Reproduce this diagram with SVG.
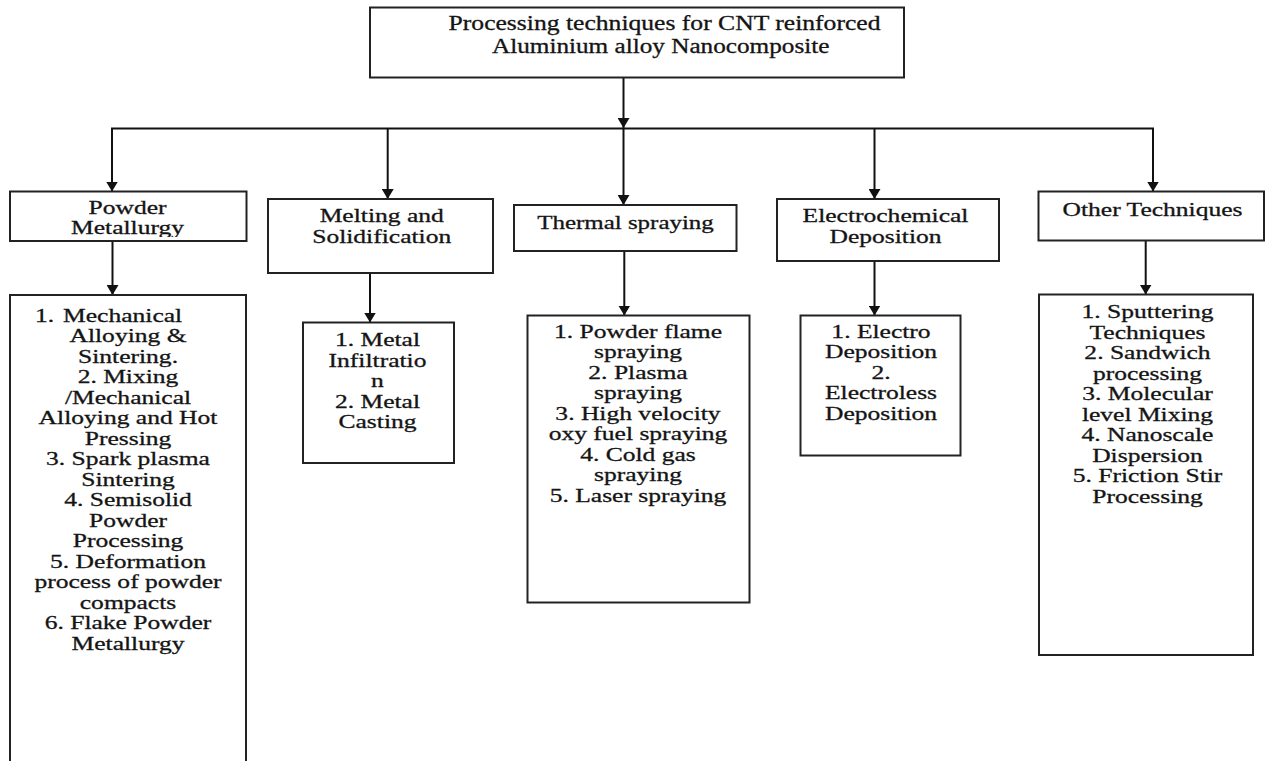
<svg xmlns="http://www.w3.org/2000/svg" width="1265" height="761" viewBox="0 0 1265 761">
<style>
.box{fill:#fff;stroke:#222;stroke-width:2}
.t{font-family:"Liberation Serif","Times New Roman",serif;font-size:19.5px;fill:#141414;stroke:#141414;stroke-width:0.3;text-anchor:middle}
.tt{font-size:20.5px}
.c{fill:none;stroke:#111;stroke-width:2}
</style>
<defs>
<marker id="ah" viewBox="0 0 10 12" refX="10" refY="6" markerWidth="10" markerHeight="12" markerUnits="userSpaceOnUse" orient="auto">
<path d="M0,0 L10,6 L0,12 z" fill="#111"/>
</marker>
<clipPath id="clipPM"><rect x="11" y="192" width="234" height="45"/></clipPath>
</defs>
<rect width="1265" height="761" fill="#fff"/>

<g id="connectors">
<path class="c" d="M623.5,77.5 V128" marker-end="url(#ah)"/>
<path class="c" d="M112,128.5 H1153" stroke-linecap="square"/>
<path class="c" d="M112,128.5 V191.5" marker-end="url(#ah)"/>
<path class="c" d="M387.7,128.5 V199" marker-end="url(#ah)"/>
<path class="c" d="M623.5,128.5 V205" marker-end="url(#ah)"/>
<path class="c" d="M874.5,128.5 V199" marker-end="url(#ah)"/>
<path class="c" d="M1153,128.5 V191.5" marker-end="url(#ah)"/>
<path class="c" d="M112.5,241 V295" marker-end="url(#ah)"/>
<path class="c" d="M370,273 V322.5" marker-end="url(#ah)"/>
<path class="c" d="M624.3,251 V315.5" marker-end="url(#ah)"/>
<path class="c" d="M874.5,261 V315.5" marker-end="url(#ah)"/>
<path class="c" d="M1145.7,240.5 V294.5" marker-end="url(#ah)"/>
</g>

<g id="root">
<rect class="box" x="370" y="7.5" width="534" height="70"/>
<g transform="translate(664.5 0) scale(1.25 1)"><text class="t tt" y="30">Processing techniques for CNT reinforced</text></g>
<g transform="translate(660.7 0) scale(1.23 1)"><text class="t tt" y="52.7">Aluminium alloy Nanocomposite</text></g>
</g>

<g id="powder">
<rect class="box" x="10" y="191.5" width="236.5" height="49.5"/>
<g clip-path="url(#clipPM)"><g transform="translate(127.5 0) scale(1.31 1)"><text class="t" y="214"><tspan x="0">Powder</tspan><tspan x="0" y="234.5">Metallurgy</tspan></text></g></g>
</g>

<g id="powder-list">
<rect class="box" x="10" y="295" width="236" height="490"/>
<g transform="translate(128 0) scale(1.31 1)">
<text class="t" y="322" style="text-anchor:start"><tspan x="-71">1.</tspan><tspan x="-49.6">Mechanical</tspan></text>
<text class="t" y="342.5"><tspan x="0">Alloying &amp;</tspan><tspan x="0" dy="20.5">Sintering.</tspan><tspan x="0" dy="20.5">2. Mixing</tspan><tspan x="0" dy="20.5">/Mechanical</tspan><tspan x="0" dy="20.5">Alloying and Hot</tspan><tspan x="0" dy="20.5">Pressing</tspan><tspan x="0" dy="20.5">3. Spark plasma</tspan><tspan x="0" dy="20.5">Sintering</tspan><tspan x="0" dy="20.5">4. Semisolid</tspan><tspan x="0" dy="20.5">Powder</tspan><tspan x="0" dy="20.5">Processing</tspan><tspan x="0" dy="20.5">5. Deformation</tspan><tspan x="0" dy="20.5">process of powder</tspan><tspan x="0" dy="20.5">compacts</tspan><tspan x="0" dy="20.5">6. Flake Powder</tspan><tspan x="0" dy="20.5">Metallurgy</tspan></text>
</g>
</g>

<g id="melting">
<rect class="box" x="268" y="199" width="225" height="74"/>
<g transform="translate(381.7 0) scale(1.31 1)"><text class="t" y="222"><tspan x="0">Melting and</tspan><tspan x="0" y="243.5">Solidification</tspan></text></g>
</g>

<g id="melting-list">
<rect class="box" x="303" y="322.5" width="151" height="140.5"/>
<g transform="translate(377.5 0) scale(1.31 1)"><text class="t" y="346.5"><tspan x="0">1. Metal</tspan><tspan x="0" dy="20.4">Infiltratio</tspan><tspan x="0" dy="20.4">n</tspan><tspan x="0" dy="20.4">2. Metal</tspan><tspan x="0" dy="20.4">Casting</tspan></text></g>
</g>

<g id="thermal">
<rect class="box" x="514" y="205" width="222.5" height="46"/>
<g transform="translate(625.5 0) scale(1.28 1)"><text class="t" y="229.3">Thermal spraying</text></g>
</g>

<g id="thermal-list">
<rect class="box" x="527.5" y="315.5" width="222" height="287"/>
<g transform="translate(638 0) scale(1.31 1)"><text class="t" y="337.7"><tspan x="0">1. Powder flame</tspan><tspan x="0" dy="20.5">spraying</tspan><tspan x="0" dy="20.5">2. Plasma</tspan><tspan x="0" dy="20.5">spraying</tspan><tspan x="0" dy="20.5">3. High velocity</tspan><tspan x="0" dy="20.5">oxy fuel spraying</tspan><tspan x="0" dy="20.5">4. Cold gas</tspan><tspan x="0" dy="20.5">spraying</tspan><tspan x="0" dy="20.5">5. Laser spraying</tspan></text></g>
</g>

<g id="electro">
<rect class="box" x="777" y="199" width="222" height="62"/>
<g transform="translate(885.5 0) scale(1.31 1)"><text class="t" y="222.3"><tspan x="0">Electrochemical</tspan><tspan x="0" y="243.3">Deposition</tspan></text></g>
</g>

<g id="electro-list">
<rect class="box" x="800.5" y="315.5" width="160" height="140"/>
<g transform="translate(881 0) scale(1.31 1)"><text class="t" y="337.7"><tspan x="0">1. Electro</tspan><tspan x="0" dy="20.5">Deposition</tspan><tspan x="0" dy="20.5">2.</tspan><tspan x="0" dy="20.5">Electroless</tspan><tspan x="0" dy="20.5">Deposition</tspan></text></g>
</g>

<g id="other">
<rect class="box" x="1038.5" y="191.5" width="225.5" height="49"/>
<g transform="translate(1152.5 0) scale(1.31 1)"><text class="t" y="216">Other Techniques</text></g>
</g>

<g id="other-list">
<rect class="box" x="1039" y="294.5" width="214" height="360.5"/>
<g transform="translate(1147.5 0) scale(1.31 1)"><text class="t" y="318.3"><tspan x="0">1. Sputtering</tspan><tspan x="0" dy="20.5">Techniques</tspan><tspan x="0" dy="20.5">2. Sandwich</tspan><tspan x="0" dy="20.5">processing</tspan><tspan x="0" dy="20.5">3. Molecular</tspan><tspan x="0" dy="20.5">level Mixing</tspan><tspan x="0" dy="20.5">4. Nanoscale</tspan><tspan x="0" dy="20.5">Dispersion</tspan><tspan x="0" dy="20.5">5. Friction Stir</tspan><tspan x="0" dy="20.5">Processing</tspan></text></g>
</g>
</svg>
